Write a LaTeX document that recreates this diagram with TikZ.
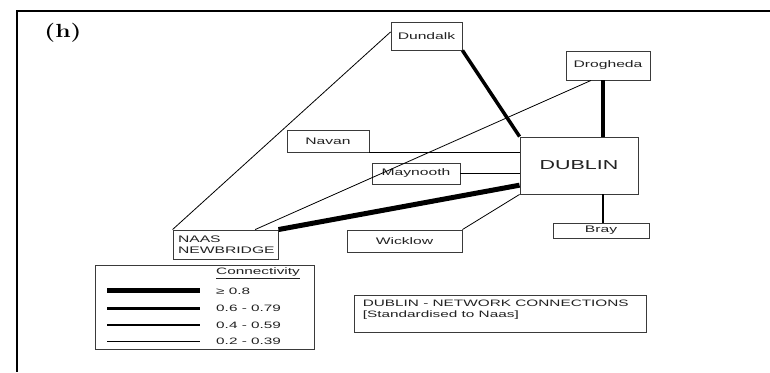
\documentclass[tikz,border=0pt]{standalone}
\usepackage{fontspec}
\usepackage{graphicx}
\usetikzlibrary{calc}
\newfontfamily\labfont[FakeStretch=1.65]{Liberation Sans}
\definecolor{ink}{HTML}{222222}
\definecolor{boxline}{HTML}{3A3A3A}
\begin{document}
\begin{tikzpicture}[x=1pt,y=-1pt,
  town/.style={draw=boxline, line width=0.9pt, inner sep=0pt, text=ink,
    font=\labfont\fontsize{9.5}{11}\selectfont},
  plain/.style={draw=boxline, line width=0.9pt, inner sep=0pt},
  wA/.style={line width=5pt},
  wB/.style={line width=3.5pt},
  wC/.style={line width=1.6pt},
  wD/.style={line width=0.8pt},
  legtxt/.style={anchor=west, inner sep=0pt, text=ink,
    font=\labfont\fontsize{9.3}{11}\selectfont}
]
\useasboundingbox (0,0) rectangle (770,372);
% frame
\draw[line width=2pt] (770,11) -- (17,11) -- (17,372);
\node[inner sep=0pt, font=\fontsize{19}{19}\selectfont\bfseries] (tag) at (63,33) {\scalebox{1.3}[1]{(h)}};

% towns
\node[town, minimum width=71, minimum height=28] (dundalk) at (426.5,36) {Dundalk};
\node[town, minimum width=84, minimum height=29] (drog) at (608,65.5) {Drogheda};
\node[town, minimum width=82, minimum height=22] (navan) at (328,141) {Navan};
\node[town, minimum width=88, minimum height=21] (maynooth) at (416,173.5) {Maynooth};
\node[town, minimum width=118, minimum height=57, font=\labfont\fontsize{13}{15}\selectfont] (dublin) at (579,165.5) {DUBLIN};
\node[town, minimum width=96, minimum height=15] (bray) at (601,230.5) {Bray};
\node[town, minimum width=115, minimum height=22] (wicklow) at (404.5,241) {Wicklow};
\node[town, minimum width=105, minimum height=29, align=left, text width=95, inner xsep=5pt] (naas) at (225.5,244.5) {NAAS\\NEWBRIDGE};

\coordinate (vx) at (603,0);

% connectors
\draw[wD] ($(dundalk.north west)!0.36!(dundalk.south west)$) -- (naas.north west);
\draw[wD] ($(drog.south west)!0.3!(drog.south east)$) -- ($(naas.north west)!0.78!(naas.north east)$);
\draw[wB] (dundalk.south east) -- (dublin.north west);
\draw[wB] (drog.south -| vx) -- (dublin.north -| vx);
\draw[wD] (navan.south east) -- (navan.south east -| dublin.west);
\draw[wD] (maynooth.east) -- (maynooth.east -| dublin.west);
\draw[wA] (naas.north east) -- ($(dublin.north west)!0.84!(dublin.south west)$);
\draw[wD] (wicklow.north east) -- (dublin.south west);
\draw[wC] (dublin.south -| vx) -- (bray.north -| vx);

% legend
\node[plain, minimum width=219, minimum height=84] (legend) at (204.5,307) {};
\node[legtxt] (lt) at (216,273) {\underline{Connectivity}};
\draw[wA] (107,290.5) -- (200,290.5);
\draw[wB] (107,308.5) -- (200,308.5);
\draw[wC] (107,325) -- (200,325);
\draw[wD] (107,341) -- (200,341);
\node[legtxt] (l1) at (216,291) {≥ 0.8};
\node[legtxt] (l2) at (216,308) {0.6 - 0.79};
\node[legtxt] (l3) at (216,325) {0.4 - 0.59};
\node[legtxt] (l4) at (216,341) {0.2 - 0.39};

% title box
\node[plain, minimum width=292, minimum height=37] (netbox) at (500,313.5) {};
\node[anchor=north west, inner sep=0pt, align=left, text=ink,
  font=\labfont\fontsize{9.3}{11}\selectfont] (nettxt) at ($(netbox.north west)+(9,5)$)
  {DUBLIN - NETWORK CONNECTIONS\\{[}Standardised to Naas{]}};
\end{tikzpicture}
\end{document}
